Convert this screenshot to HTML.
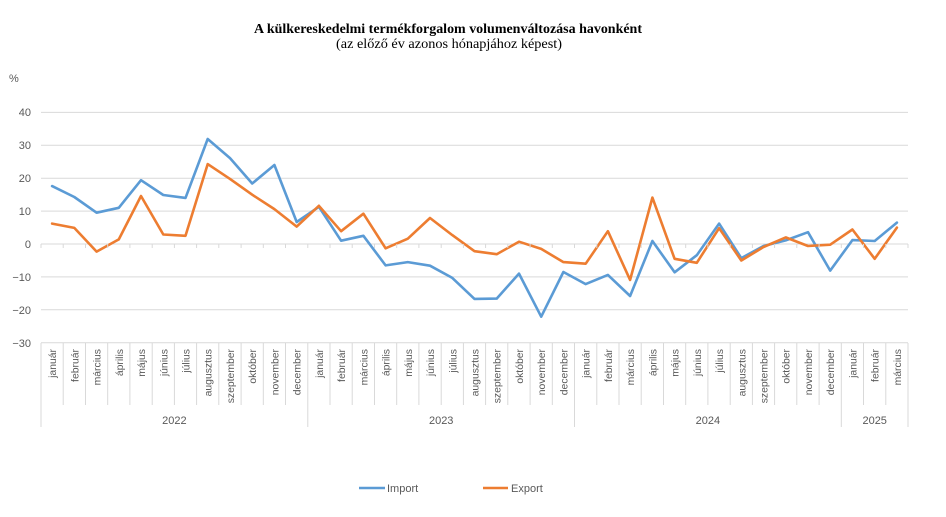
<!DOCTYPE html>
<html><head><meta charset="utf-8"><style>
html,body{margin:0;padding:0;background:#fff;}
svg{display:block;}
</style></head><body>
<svg width="946" height="517" viewBox="0 0 946 517" xmlns="http://www.w3.org/2000/svg">
<rect width="946" height="517" fill="#fff"/>
<text x="448" y="33" text-anchor="middle" font-family="Liberation Serif, serif" font-weight="bold" font-size="13.5" fill="#000" textLength="388" lengthAdjust="spacingAndGlyphs">A külkereskedelmi termékforgalom volumenváltozása havonként</text>
<text x="449" y="48" text-anchor="middle" font-family="Liberation Serif, serif" font-size="13.5" fill="#000" textLength="226" lengthAdjust="spacingAndGlyphs">(az előző év azonos hónapjához képest)</text>
<g font-family="Liberation Sans, sans-serif" font-size="11" fill="#595959">
<text x="9" y="82">%</text>
<g text-anchor="end">
<text x="31" y="116">40</text>
<text x="31" y="149">30</text>
<text x="31" y="182">20</text>
<text x="31" y="215">10</text>
<text x="31" y="248">0</text>
<text x="31" y="281">−10</text>
<text x="31" y="314">−20</text>
<text x="31" y="347">−30</text>
</g>
</g>
<g stroke="#d9d9d9" stroke-width="1">
<line x1="41" x2="908" y1="112.4" y2="112.4"/>
<line x1="41" x2="908" y1="145.3" y2="145.3"/>
<line x1="41" x2="908" y1="178.2" y2="178.2"/>
<line x1="41" x2="908" y1="211.1" y2="211.1"/>
<line x1="41" x2="908" y1="244" y2="244"/>
<line x1="41" x2="908" y1="276.9" y2="276.9"/>
<line x1="41" x2="908" y1="309.8" y2="309.8"/>
<line x1="41" x2="908" y1="342.7" y2="342.7"/>
</g>
<g id="ticks" stroke="#d9d9d9" stroke-width="1"></g>
<g id="seps" stroke="#d9d9d9" stroke-width="1"></g>
<g id="months" font-family="Liberation Sans, sans-serif" font-size="10.4" fill="#595959"></g>
<g font-family="Liberation Sans, sans-serif" font-size="11" fill="#595959" text-anchor="middle">
<text x="174.4" y="424">2022</text>
<text x="441.2" y="424">2023</text>
<text x="707.9" y="424">2024</text>
<text x="874.7" y="424">2025</text>
</g>
<polyline fill="none" stroke="#5B9BD5" stroke-width="2.6" stroke-linejoin="round" stroke-linecap="round" points="52.1,186.1 74.3,197.0 96.6,212.7 118.8,207.8 141.0,180.2 163.3,195.0 185.5,197.9 207.7,139.0 230.0,158.1 252.2,183.5 274.4,165.0 296.7,222.0 318.9,206.8 341.1,240.7 363.4,235.8 385.6,265.4 407.8,262.1 430.0,265.7 452.3,277.9 474.5,298.9 496.7,298.6 519.0,273.6 541.2,316.7 563.4,272.0 585.7,284.1 607.9,274.9 630.1,296.0 652.4,241.0 674.6,272.3 696.8,255.2 719.1,223.6 741.3,258.1 763.5,246.0 785.7,240.4 808.0,232.2 830.2,270.6 852.4,240.1 874.7,241.0 896.9,222.6"/>
<polyline fill="none" stroke="#ED7D31" stroke-width="2.6" stroke-linejoin="round" stroke-linecap="round" points="52.1,223.6 74.3,227.9 96.6,251.6 118.8,239.4 141.0,196.0 163.3,234.5 185.5,235.8 207.7,164.1 230.0,178.9 252.2,194.7 274.4,209.1 296.7,226.6 318.9,205.8 341.1,231.2 363.4,213.7 385.6,248.3 407.8,238.7 430.0,218.0 452.3,235.1 474.5,251.2 496.7,254.2 519.0,241.7 541.2,248.9 563.4,262.1 585.7,263.7 607.9,231.2 630.1,279.9 652.4,197.6 674.6,258.8 696.8,262.8 719.1,228.2 741.3,260.5 763.5,247.0 785.7,237.4 808.0,246.0 830.2,244.7 852.4,229.5 874.7,258.8 896.9,227.6"/>
<line x1="359" x2="385" y1="488" y2="488" stroke="#5B9BD5" stroke-width="2.6"/>
<text x="387" y="492" font-family="Liberation Sans, sans-serif" font-size="11" fill="#595959">Import</text>
<line x1="483" x2="508" y1="488" y2="488" stroke="#ED7D31" stroke-width="2.6"/>
<text x="511" y="492" font-family="Liberation Sans, sans-serif" font-size="11" fill="#595959">Export</text>
<!--static month labels and separators-->
<g stroke="#d9d9d9" stroke-width="1">
<line x1="41" x2="41" y1="244" y2="248"/><line x1="63.2" x2="63.2" y1="244" y2="248"/><line x1="85.5" x2="85.5" y1="244" y2="248"/><line x1="107.7" x2="107.7" y1="244" y2="248"/><line x1="129.9" x2="129.9" y1="244" y2="248"/><line x1="152.2" x2="152.2" y1="244" y2="248"/><line x1="174.4" x2="174.4" y1="244" y2="248"/><line x1="196.6" x2="196.6" y1="244" y2="248"/><line x1="218.8" x2="218.8" y1="244" y2="248"/><line x1="241.1" x2="241.1" y1="244" y2="248"/><line x1="263.3" x2="263.3" y1="244" y2="248"/><line x1="285.5" x2="285.5" y1="244" y2="248"/><line x1="307.8" x2="307.8" y1="244" y2="248"/><line x1="330" x2="330" y1="244" y2="248"/><line x1="352.2" x2="352.2" y1="244" y2="248"/><line x1="374.5" x2="374.5" y1="244" y2="248"/><line x1="396.7" x2="396.7" y1="244" y2="248"/><line x1="418.9" x2="418.9" y1="244" y2="248"/><line x1="441.2" x2="441.2" y1="244" y2="248"/><line x1="463.4" x2="463.4" y1="244" y2="248"/><line x1="485.6" x2="485.6" y1="244" y2="248"/><line x1="507.8" x2="507.8" y1="244" y2="248"/><line x1="530.1" x2="530.1" y1="244" y2="248"/><line x1="552.3" x2="552.3" y1="244" y2="248"/><line x1="574.5" x2="574.5" y1="244" y2="248"/><line x1="596.8" x2="596.8" y1="244" y2="248"/><line x1="619" x2="619" y1="244" y2="248"/><line x1="641.2" x2="641.2" y1="244" y2="248"/><line x1="663.5" x2="663.5" y1="244" y2="248"/><line x1="685.7" x2="685.7" y1="244" y2="248"/><line x1="707.9" x2="707.9" y1="244" y2="248"/><line x1="730.2" x2="730.2" y1="244" y2="248"/><line x1="752.4" x2="752.4" y1="244" y2="248"/><line x1="774.6" x2="774.6" y1="244" y2="248"/><line x1="796.8" x2="796.8" y1="244" y2="248"/><line x1="819.1" x2="819.1" y1="244" y2="248"/><line x1="841.3" x2="841.3" y1="244" y2="248"/><line x1="863.5" x2="863.5" y1="244" y2="248"/><line x1="885.8" x2="885.8" y1="244" y2="248"/><line x1="908" x2="908" y1="244" y2="248"/>
<line x1="41" x2="41" y1="343" y2="427"/><line x1="63.2" x2="63.2" y1="343" y2="405"/><line x1="85.5" x2="85.5" y1="343" y2="405"/><line x1="107.7" x2="107.7" y1="343" y2="405"/><line x1="129.9" x2="129.9" y1="343" y2="405"/><line x1="152.2" x2="152.2" y1="343" y2="405"/><line x1="174.4" x2="174.4" y1="343" y2="405"/><line x1="196.6" x2="196.6" y1="343" y2="405"/><line x1="218.8" x2="218.8" y1="343" y2="405"/><line x1="241.1" x2="241.1" y1="343" y2="405"/><line x1="263.3" x2="263.3" y1="343" y2="405"/><line x1="285.5" x2="285.5" y1="343" y2="405"/><line x1="307.8" x2="307.8" y1="343" y2="427"/><line x1="330" x2="330" y1="343" y2="405"/><line x1="352.2" x2="352.2" y1="343" y2="405"/><line x1="374.5" x2="374.5" y1="343" y2="405"/><line x1="396.7" x2="396.7" y1="343" y2="405"/><line x1="418.9" x2="418.9" y1="343" y2="405"/><line x1="441.2" x2="441.2" y1="343" y2="405"/><line x1="463.4" x2="463.4" y1="343" y2="405"/><line x1="485.6" x2="485.6" y1="343" y2="405"/><line x1="507.8" x2="507.8" y1="343" y2="405"/><line x1="530.1" x2="530.1" y1="343" y2="405"/><line x1="552.3" x2="552.3" y1="343" y2="405"/><line x1="574.5" x2="574.5" y1="343" y2="427"/><line x1="596.8" x2="596.8" y1="343" y2="405"/><line x1="619" x2="619" y1="343" y2="405"/><line x1="641.2" x2="641.2" y1="343" y2="405"/><line x1="663.5" x2="663.5" y1="343" y2="405"/><line x1="685.7" x2="685.7" y1="343" y2="405"/><line x1="707.9" x2="707.9" y1="343" y2="405"/><line x1="730.2" x2="730.2" y1="343" y2="405"/><line x1="752.4" x2="752.4" y1="343" y2="405"/><line x1="774.6" x2="774.6" y1="343" y2="405"/><line x1="796.8" x2="796.8" y1="343" y2="405"/><line x1="819.1" x2="819.1" y1="343" y2="405"/><line x1="841.3" x2="841.3" y1="343" y2="427"/><line x1="863.5" x2="863.5" y1="343" y2="405"/><line x1="885.8" x2="885.8" y1="343" y2="405"/><line x1="908" x2="908" y1="343" y2="427"/>
</g>
<g font-family="Liberation Sans, sans-serif" font-size="10.4" fill="#595959" text-anchor="end">
<text transform="translate(56.1,349) rotate(-90)">január</text>
<text transform="translate(78.3,349) rotate(-90)">február</text>
<text transform="translate(100.6,349) rotate(-90)">március</text>
<text transform="translate(122.8,349) rotate(-90)">április</text>
<text transform="translate(145.0,349) rotate(-90)">május</text>
<text transform="translate(167.3,349) rotate(-90)">június</text>
<text transform="translate(189.5,349) rotate(-90)">július</text>
<text transform="translate(211.7,349) rotate(-90)">augusztus</text>
<text transform="translate(234.0,349) rotate(-90)">szeptember</text>
<text transform="translate(256.2,349) rotate(-90)">október</text>
<text transform="translate(278.4,349) rotate(-90)">november</text>
<text transform="translate(300.7,349) rotate(-90)">december</text>
<text transform="translate(322.9,349) rotate(-90)">január</text>
<text transform="translate(345.1,349) rotate(-90)">február</text>
<text transform="translate(367.4,349) rotate(-90)">március</text>
<text transform="translate(389.6,349) rotate(-90)">április</text>
<text transform="translate(411.8,349) rotate(-90)">május</text>
<text transform="translate(434.0,349) rotate(-90)">június</text>
<text transform="translate(456.3,349) rotate(-90)">július</text>
<text transform="translate(478.5,349) rotate(-90)">augusztus</text>
<text transform="translate(500.7,349) rotate(-90)">szeptember</text>
<text transform="translate(523.0,349) rotate(-90)">október</text>
<text transform="translate(545.2,349) rotate(-90)">november</text>
<text transform="translate(567.4,349) rotate(-90)">december</text>
<text transform="translate(589.7,349) rotate(-90)">január</text>
<text transform="translate(611.9,349) rotate(-90)">február</text>
<text transform="translate(634.1,349) rotate(-90)">március</text>
<text transform="translate(656.4,349) rotate(-90)">április</text>
<text transform="translate(678.6,349) rotate(-90)">május</text>
<text transform="translate(700.8,349) rotate(-90)">június</text>
<text transform="translate(723.1,349) rotate(-90)">július</text>
<text transform="translate(745.3,349) rotate(-90)">augusztus</text>
<text transform="translate(767.5,349) rotate(-90)">szeptember</text>
<text transform="translate(789.7,349) rotate(-90)">október</text>
<text transform="translate(812.0,349) rotate(-90)">november</text>
<text transform="translate(834.2,349) rotate(-90)">december</text>
<text transform="translate(856.4,349) rotate(-90)">január</text>
<text transform="translate(878.7,349) rotate(-90)">február</text>
<text transform="translate(900.9,349) rotate(-90)">március</text>
</g>
</svg>
</body></html>
